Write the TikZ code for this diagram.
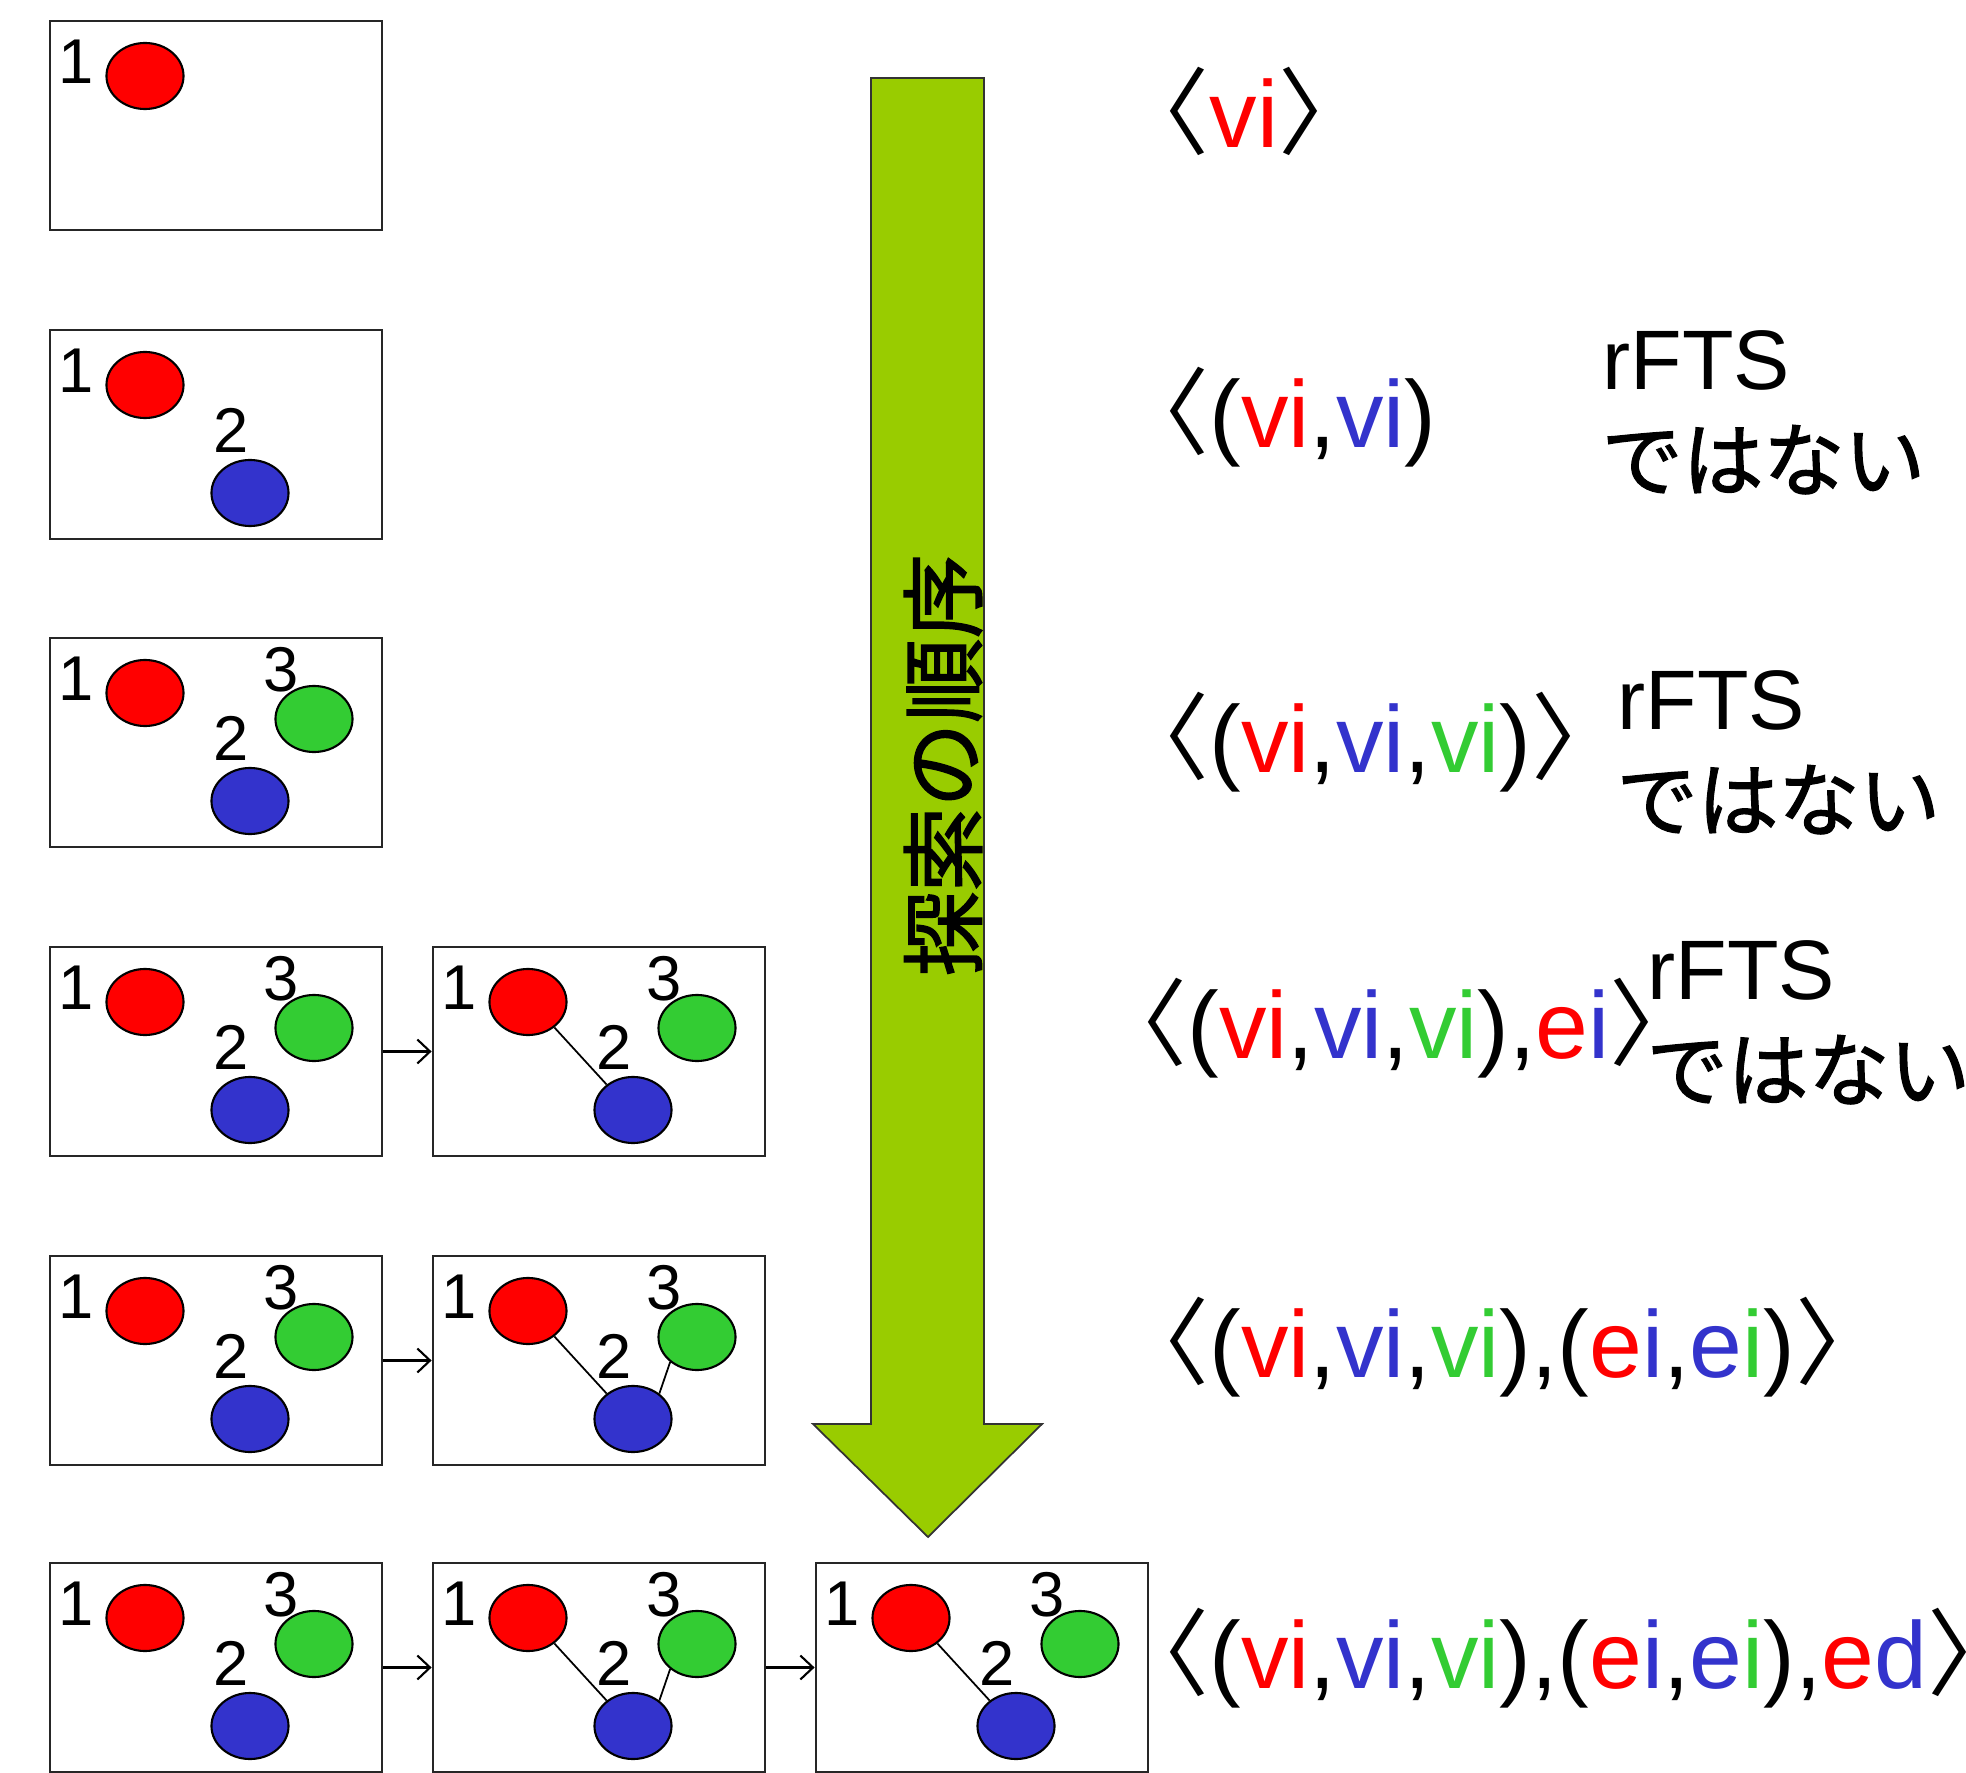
\documentclass[tikz,border=0pt]{standalone}
\usepackage{fontspec}
\setmainfont{Liberation Sans}
\newfontfamily\jpfont{Noto Sans CJK JP}
\newfontfamily\jpheavy{Noto Sans CJK JP}[FakeBold=1.6]
\usetikzlibrary{arrows.meta, shapes.geometric}

\definecolor{vred}{HTML}{FF0000}
\definecolor{vblue}{HTML}{3333CC}
\definecolor{vgreen}{HTML}{33CC33}
\definecolor{ordergreen}{HTML}{99CC00}

% coloured labels and the brackets around a code
\newcommand{\cR}[1]{\textcolor{vred}{#1}}
\newcommand{\cB}[1]{\textcolor{vblue}{#1}}
\newcommand{\cG}[1]{\textcolor{vgreen}{#1}}
\newcommand{\lseq}{{\jpfont 〈}}
\newcommand{\rseq}{{\jpfont 〉}}

\begin{document}
\begin{tikzpicture}[
    x=0.01cm, y=-0.01cm,
    box/.style={
        draw=black!85, line width=0.75pt, minimum width=3.32cm, minimum height=2.09cm,
        inner sep=0pt
    },
    vtx/.style={
        ellipse, draw=black, line width=0.6pt, minimum width=0.77cm, minimum height=0.66cm,
        inner sep=0pt
    },
    num/.style={font=\fontsize{18}{20}\selectfont, inner sep=0pt},
    link/.style={line width=0.5pt},
    nextarr/.style={-{Straight Barb[length=3.6pt, width=6.8pt]}, line width=0.6pt},
    seq/.style={font=\fontsize{27}{32}\selectfont, anchor=base west, inner sep=0pt},
    note/.style={font=\fontsize{24}{28}\selectfont, anchor=base west, inner sep=0pt},
    jnote/.style={font=\jpheavy\fontsize{23}{28}\selectfont, anchor=base west, inner sep=0pt}
]
\useasboundingbox (0,0) rectangle (1966,1773);

% search order arrow
\draw[fill=ordergreen, draw=black!80, line width=0.5pt]
    (871,78) -- (984,78) -- (984,1424) -- (1042,1424) -- (928,1537)
    -- (813,1424) -- (871,1424) -- cycle;
\node[rotate=90, font=\jpheavy\fontsize{24}{28}\selectfont, inner sep=0pt] (order) at (943,765) {探索の順序};

% row 1
\begin{scope}[shift={(50,21)}]
\node[box] (a1) at (166,104.5) {};
\node[vtx, fill=vred] (a1r) at (95,55) {};
\node[num] (a1n1) at (26,41) {1};
\end{scope}

% row 2
\begin{scope}[shift={(50,330)}]
\node[box] (a2) at (166,104.5) {};
\node[vtx, fill=vred] (a2r) at (95,55) {};
\node[vtx, fill=vblue] (a2b) at (200,163) {};
\node[num] (a2n1) at (26,41) {1};
\node[num] (a2n2) at (181,100) {2};
\end{scope}

% row 3
\begin{scope}[shift={(50,638)}]
\node[box] (a3) at (166,104.5) {};
\node[vtx, fill=vred] (a3r) at (95,55) {};
\node[vtx, fill=vblue] (a3b) at (200,163) {};
\node[vtx, fill=vgreen] (a3g) at (264,81) {};
\node[num] (a3n1) at (26,41) {1};
\node[num] (a3n2) at (181,100) {2};
\node[num] (a3n3) at (231,32) {3};
\end{scope}

% row 4
\begin{scope}[shift={(50,947)}]
\node[box] (a4) at (166,104.5) {};
\node[vtx, fill=vred] (a4r) at (95,55) {};
\node[vtx, fill=vblue] (a4b) at (200,163) {};
\node[vtx, fill=vgreen] (a4g) at (264,81) {};
\node[num] (a4n1) at (26,41) {1};
\node[num] (a4n2) at (181,100) {2};
\node[num] (a4n3) at (231,32) {3};
\end{scope}
\begin{scope}[shift={(433,947)}]
\node[box] (b4) at (166,104.5) {};
\node[vtx, fill=vred] (b4r) at (95,55) {};
\node[vtx, fill=vblue] (b4b) at (200,163) {};
\node[vtx, fill=vgreen] (b4g) at (264,81) {};
\node[num] (b4n1) at (26,41) {1};
\node[num] (b4n2) at (181,100) {2};
\node[num] (b4n3) at (231,32) {3};
\end{scope}
\draw[link] (b4r.-44) -- (b4b.136);
\draw[nextarr] (a4.east) -- (b4.west);

% row 5
\begin{scope}[shift={(50,1256)}]
\node[box] (a5) at (166,104.5) {};
\node[vtx, fill=vred] (a5r) at (95,55) {};
\node[vtx, fill=vblue] (a5b) at (200,163) {};
\node[vtx, fill=vgreen] (a5g) at (264,81) {};
\node[num] (a5n1) at (26,41) {1};
\node[num] (a5n2) at (181,100) {2};
\node[num] (a5n3) at (231,32) {3};
\end{scope}
\begin{scope}[shift={(433,1256)}]
\node[box] (b5) at (166,104.5) {};
\node[vtx, fill=vred] (b5r) at (95,55) {};
\node[vtx, fill=vblue] (b5b) at (200,163) {};
\node[vtx, fill=vgreen] (b5g) at (264,81) {};
\node[num] (b5n1) at (26,41) {1};
\node[num] (b5n2) at (181,100) {2};
\node[num] (b5n3) at (231,32) {3};
\end{scope}
\draw[link] (b5r.-44) -- (b5b.136);
\draw[link] (b5b.44) -- (b5g.223);
\draw[nextarr] (a5.east) -- (b5.west);

% row 6
\begin{scope}[shift={(50,1563)}]
\node[box] (a6) at (166,104.5) {};
\node[vtx, fill=vred] (a6r) at (95,55) {};
\node[vtx, fill=vblue] (a6b) at (200,163) {};
\node[vtx, fill=vgreen] (a6g) at (264,81) {};
\node[num] (a6n1) at (26,41) {1};
\node[num] (a6n2) at (181,100) {2};
\node[num] (a6n3) at (231,32) {3};
\end{scope}
\begin{scope}[shift={(433,1563)}]
\node[box] (b6) at (166,104.5) {};
\node[vtx, fill=vred] (b6r) at (95,55) {};
\node[vtx, fill=vblue] (b6b) at (200,163) {};
\node[vtx, fill=vgreen] (b6g) at (264,81) {};
\node[num] (b6n1) at (26,41) {1};
\node[num] (b6n2) at (181,100) {2};
\node[num] (b6n3) at (231,32) {3};
\end{scope}
\begin{scope}[shift={(816,1563)}]
\node[box] (c6) at (166,104.5) {};
\node[vtx, fill=vred] (c6r) at (95,55) {};
\node[vtx, fill=vblue] (c6b) at (200,163) {};
\node[vtx, fill=vgreen] (c6g) at (264,81) {};
\node[num] (c6n1) at (26,41) {1};
\node[num] (c6n2) at (181,100) {2};
\node[num] (c6n3) at (231,32) {3};
\end{scope}
\draw[link] (b6r.-44) -- (b6b.136);
\draw[link] (b6b.44) -- (b6g.223);
\draw[link] (c6r.-44) -- (c6b.136);
\draw[nextarr] (a6.east) -- (b6.west);
\draw[nextarr] (b6.east) -- (c6.west);

% codes
\node[seq] (code1) at (1114,148) {\lseq\cR{vi}\rseq};
\node[seq] (code2) at (1114,448) {\lseq(\cR{vi},\cB{vi})};
\node[seq] (code3) at (1114,772) {\lseq(\cR{vi},\cB{vi},\cG{vi})\rseq};
\node[seq] (code4) at (1092,1058) {\lseq(\cR{vi},\cB{vi},\cG{vi}),\cR{e}\cB{i}\rseq};
\node[seq] (code5) at (1114,1377) {\lseq(\cR{vi},\cB{vi},\cG{vi}),(\cR{e}\cB{i},\cB{e}\cG{i})\rseq};
\node[seq] (code6) at (1114,1688) {\lseq(\cR{vi},\cB{vi},\cG{vi}),(\cR{e}\cB{i},\cB{e}\cG{i}),\cR{e}\cB{d}\rseq};

% not minimal
\node[note] (rfts2) at (1602,390) {rFTS};
\node[jnote] (nai2) at (1601,490) {ではない};
\node[note] (rfts3) at (1617,729) {rFTS};
\node[jnote] (nai3) at (1616,830) {ではない};
\node[note] (rfts4) at (1647,999) {rFTS};
\node[jnote] (nai4) at (1646,1100) {ではない};

\end{tikzpicture}
\end{document}
